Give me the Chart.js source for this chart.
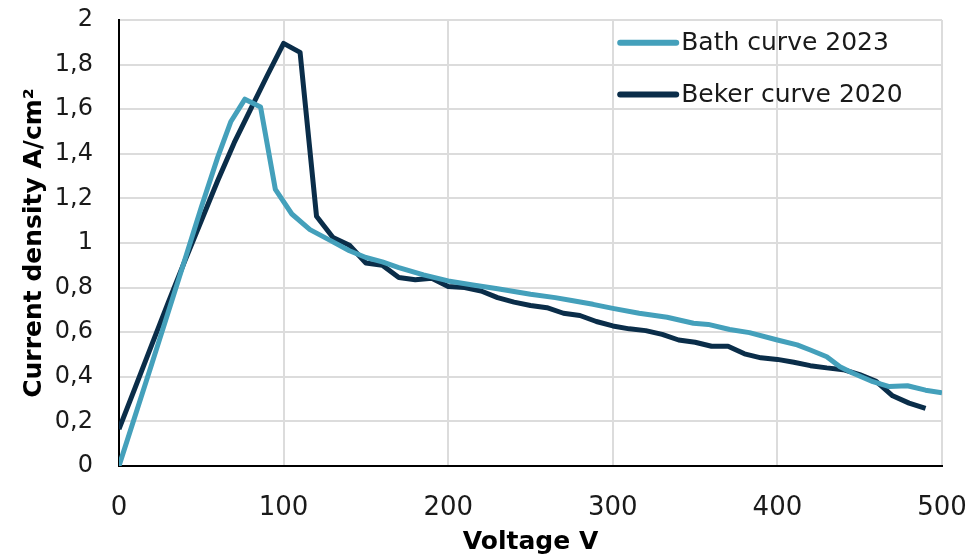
<!DOCTYPE html>
<html>
<head>
<meta charset="utf-8">
<script src="https://cdn.jsdelivr.net/npm/chart.js@4"></script>
<style>
html,body{margin:0;padding:0;background:#fff;}
#wrap{width:971px;height:557px;position:relative;}
</style>
</head>
<body>
<div id="wrap"><canvas id="c" width="971" height="557"></canvas></div>
<script>
// ---- data ----
const seriesNames = ['Bath curve 2023', 'Beker curve 2020'];
const bathVolts = [0, 20, 40, 50, 60, 68, 76.5, 86, 95, 105, 116, 128, 140, 150, 160, 170, 185, 200, 215, 230, 250, 265, 275, 288, 300, 316, 333, 349, 358, 371, 383, 400, 412, 420, 430, 438, 446, 458, 468, 479, 490, 500];
const bathValues = [0, 0.46, 0.925, 1.16, 1.385, 1.545, 1.645, 1.61, 1.24, 1.13, 1.06, 1.013, 0.965, 0.935, 0.915, 0.89, 0.857, 0.83, 0.812, 0.795, 0.77, 0.755, 0.742, 0.725, 0.707, 0.685, 0.667, 0.64, 0.635, 0.612, 0.598, 0.565, 0.543, 0.52, 0.49, 0.445, 0.416, 0.378, 0.356, 0.36, 0.34, 0.328];
const bekerVolts = [0, 10, 20, 30, 40, 50, 60, 70, 80, 90, 100, 110, 120, 130, 140, 150, 160, 170, 180, 190, 200, 210, 220, 230, 240, 250, 260, 270, 280, 290, 300, 310, 320, 330, 340, 350, 360, 370, 380, 390, 400, 410, 420, 430, 440, 450, 460, 470, 480, 490];
const bekerValues = [0.165, 0.355, 0.545, 0.735, 0.92, 1.10, 1.28, 1.45, 1.60, 1.75, 1.895, 1.855, 1.12, 1.025, 0.99, 0.91, 0.90, 0.845, 0.835, 0.842, 0.805, 0.80, 0.785, 0.755, 0.735, 0.72, 0.71, 0.685, 0.675, 0.648, 0.628, 0.615, 0.607, 0.59, 0.565, 0.555, 0.537, 0.537, 0.503, 0.485, 0.478, 0.465, 0.45, 0.44, 0.432, 0.41, 0.38, 0.315, 0.282, 0.258];
const xTitle = 'Voltage V';
const yTitle = 'Current density A/cm²';

const FONT = "'DejaVu Sans', sans-serif";
const colors = ['#44a0bb', '#0a2d49'];

const toPts = (xs, ys) => xs.map((x, i) => ({x: x, y: ys[i]}));

const legendPlugin = {
  id: 'innerLegend',
  afterDraw(chart) {
    const ca = chart.chartArea;
    const ctx = chart.ctx;
    const x0 = ca.left + 0.609 * (ca.right - ca.left);
    const ys = [0.051, 0.167];
    ctx.save();
    chart.data.datasets.forEach((ds, i) => {
      const y = ca.top + ys[i] * (ca.bottom - ca.top);
      ctx.strokeStyle = ds.borderColor;
      ctx.lineWidth = 6;
      ctx.lineCap = 'round';
      ctx.beginPath();
      ctx.moveTo(x0, y);
      ctx.lineTo(x0 + 56, y);
      ctx.stroke();
      ctx.fillStyle = '#1a1a1a';
      ctx.font = "25px " + FONT;
      ctx.textBaseline = 'middle';
      ctx.textAlign = 'left';
      ctx.fillText(ds.label, x0 + 61, y + 1);
    });
    ctx.restore();
  }
};

new Chart(document.getElementById('c'), {
  type: 'line',
  data: {
    datasets: [
      {label: seriesNames[0], data: toPts(bathVolts, bathValues), borderColor: colors[0], backgroundColor: colors[0], borderWidth: 5, pointRadius: 0, tension: 0, borderJoinStyle: 'round'},
      {label: seriesNames[1], data: toPts(bekerVolts, bekerValues), borderColor: colors[1], backgroundColor: colors[1], borderWidth: 5, pointRadius: 0, tension: 0, borderJoinStyle: 'round'}
    ]
  },
  options: {
    responsive: false,
    animation: false,
    layout: {padding: {left: 0, right: 29, top: 20, bottom: 0}},
    plugins: {legend: {display: false}, tooltip: {enabled: false}},
    scales: {
      x: {
        type: 'linear', min: 0, max: 500,
        ticks: {stepSize: 100, color: '#1a1a1a', font: {family: FONT, size: 26}, padding: 27},
        grid: {color: '#dcdcdc', lineWidth: 2, drawTicks: false},
        border: {color: '#000', width: 2},
        title: {display: true, text: xTitle, color: '#000', font: {family: FONT, size: 25, weight: 'bold'}, padding: {top: 4, bottom: 0}},
        afterFit(s) { s.height = 91; s.paddingLeft = 0; s.paddingRight = 0; }
      },
      y: {
        type: 'linear', min: 0, max: 2,
        ticks: {stepSize: 0.2, color: '#1a1a1a', font: {family: FONT, size: 24}, padding: 26,
          callback: v => String(Math.round(v * 10) / 10).replace('.', ',')},
        grid: {color: '#dcdcdc', lineWidth: 2, drawTicks: false},
        border: {color: '#000', width: 2},
        title: {display: true, text: yTitle, color: '#000', font: {family: FONT, size: 25, weight: 'bold'}, padding: {top: 19, bottom: 4}},
        afterFit(s) { s.width = 119; s.paddingTop = 0; s.paddingBottom = 0; }
      }
    }
  },
  plugins: [legendPlugin]
});
</script>
</body>
</html>
